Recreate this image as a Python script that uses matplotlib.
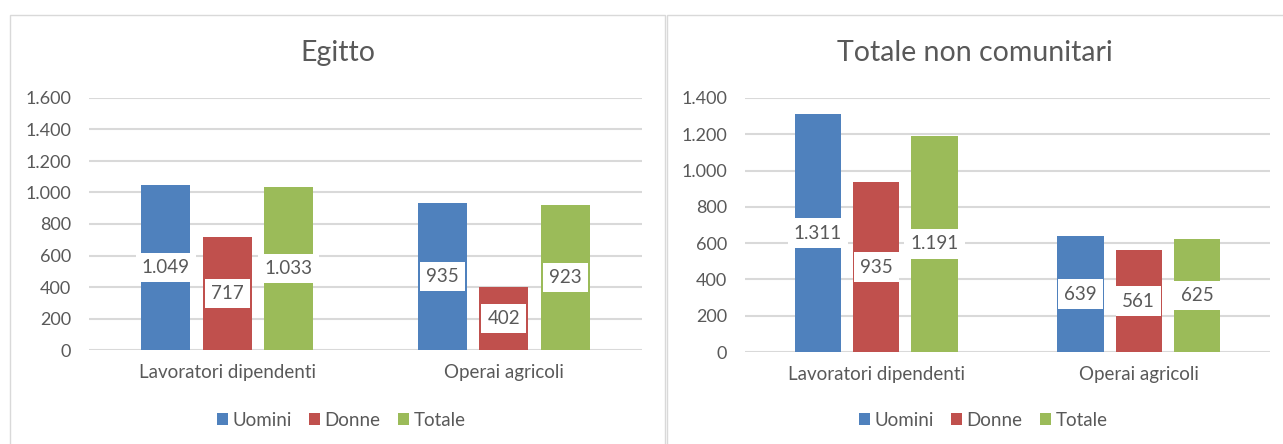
import matplotlib
matplotlib.use('Agg')
import matplotlib.pyplot as plt
from matplotlib.patches import Rectangle
import numpy as np

plt.rcParams['font.family'] = ['Lato', 'DejaVu Sans']

# dati
categorie = ['Lavoratori dipendenti', 'Operai agricoli']
serie = ['Uomini', 'Donne', 'Totale']
colori = ['#4F81BD', '#C0504D', '#9BBB59']

egitto_uomini = [1049, 935]
egitto_donne = [717, 402]
egitto_totale = [1033, 923]

noncom_uomini = [1311, 639]
noncom_donne = [935, 561]
noncom_totale = [1191, 625]

grigio = '#595959'
W, H = 1283, 444

def fmt(v):
    # separatore delle migliaia all'italiana
    return f'{v:,}'.replace(',', '.')

fig = plt.figure(figsize=(12.83, 4.44), dpi=100)

# cornici dei due pannelli
for x0, x1 in [(10, 665), (667, 1300)]:
    fig.patches.append(Rectangle((x0 / W, -0.1), (x1 - x0) / W, 1.1 - 15 / H,
                                 transform=fig.transFigure, fill=False,
                                 ec='#D9D9D9', lw=1.0))

def pannello(rect, valori, ymax, titolo, tx, lx):
    ax = fig.add_axes(rect)
    x = np.arange(len(categorie))
    off = [-0.222, 0, 0.222]
    for i, vals in enumerate(valori):
        ax.bar(x + off[i], vals, 0.177, color=colori[i], label=serie[i], zorder=2)
        for xi, v in zip(x + off[i], vals):
            ax.text(xi, v / 2, fmt(v), ha='center', va='center', fontsize=13.5,
                    color=grigio, zorder=3,
                    bbox=dict(boxstyle='square,pad=0.33', fc='white', ec='none'))
    ax.set_xlim(-0.5, 1.5)
    ax.set_ylim(0, ymax)
    ax.set_yticks(np.arange(0, ymax + 1, 200))
    ax.set_yticklabels([fmt(int(t)) for t in np.arange(0, ymax + 1, 200)])
    ax.set_xticks(x)
    ax.set_xticklabels(categorie)
    ax.yaxis.grid(True, color='#D9D9D9', lw=1.5, zorder=0)
    ax.set_axisbelow(True)
    for s in ax.spines.values():
        s.set_visible(False)
    ax.tick_params(axis='both', length=0, labelsize=13, colors=grigio)
    ax.tick_params(axis='x', labelsize=13.5, pad=10)
    ax.tick_params(axis='y', pad=13)
    ax.patch.set_alpha(0)
    fig.text(tx / W, 1 - 53 / H, titolo, ha='center', va='center',
             fontsize=20.5, color=grigio)
    fig.legend(*ax.get_legend_handles_labels(), loc='center',
               bbox_to_anchor=(lx / W, 1 - 420 / H), ncol=3, frameon=False,
               fontsize=13.5, labelcolor=grigio, handlelength=0.6,
               handleheight=0.6, handletextpad=0.25, columnspacing=0.9)
    return ax

pannello([89 / W, (444 - 350) / H, 553 / W, 252 / H],
         [egitto_uomini, egitto_donne, egitto_totale], 1600, 'Egitto', 338, 341)
pannello([745 / W, (444 - 352) / H, 525 / W, 254 / H],
         [noncom_uomini, noncom_donne, noncom_totale], 1400,
         'Totale non comunitari', 975, 983)

fig.savefig('out.png', dpi=100)
